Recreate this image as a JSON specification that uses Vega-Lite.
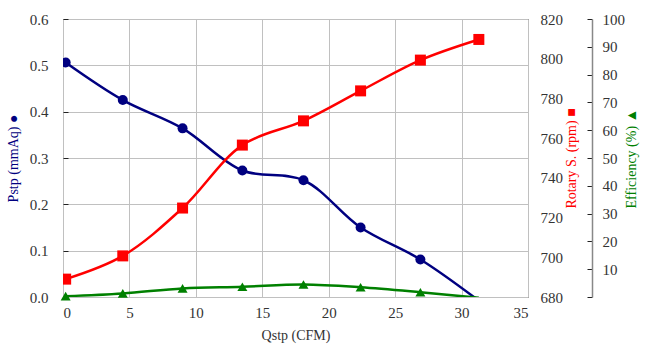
{
  "$schema": "https://vega.github.io/schema/vega-lite/v6.json",
  "width": 465,
  "height": 278,
  "autosize": {"type": "none"},
  "padding": {"left": 63, "top": 19, "right": 119, "bottom": 59},
  "background": "#ffffff",
  "config": {
    "font": "'Liberation Serif', 'Times New Roman', serif",
    "view": {"stroke": "#222222", "strokeWidth": 1},
    "axis": {
      "labelFont": "'Liberation Serif', 'Times New Roman', serif",
      "titleFont": "'Liberation Serif', 'Times New Roman', serif",
      "labelFontSize": 15,
      "titleFontSize": 14,
      "titleFontWeight": "normal",
      "labelColor": "#333333",
      "gridColor": "#c0c0c0",
      "gridWidth": 1
    }
  },
  "data": {
    "values": [
      {"q": 0.2, "pstp": 0.506, "rpm": 689.0, "eff": 0.3},
      {"q": 4.5, "pstp": 0.425, "rpm": 700.7, "eff": 1.3},
      {"q": 9.0, "pstp": 0.364, "rpm": 724.8, "eff": 3.1},
      {"q": 13.5, "pstp": 0.273, "rpm": 756.5, "eff": 3.7},
      {"q": 18.1, "pstp": 0.252, "rpm": 768.7, "eff": 4.5},
      {"q": 22.4, "pstp": 0.150, "rpm": 783.8, "eff": 3.5},
      {"q": 26.9, "pstp": 0.081, "rpm": 799.3, "eff": 1.7},
      {"q": 31.3, "pstp": -0.008, "rpm": 809.7, "eff": -0.3}
    ]
  },
  "encoding": {
    "x": {
      "field": "q",
      "type": "quantitative",
      "scale": {"domain": [0, 35], "nice": false},
      "axis": {
        "values": [0, 5, 10, 15, 20, 25, 30, 35],
        "grid": true,
        "domain": false,
        "ticks": false,
        "labelPadding": 8,
        "title": "Qstp (CFM)",
        "titleColor": "#333333",
        "titlePadding": 8
      }
    }
  },
  "layer": [
    {
      "encoding": {
        "y": {
          "field": "pstp",
          "type": "quantitative",
          "scale": {"domain": [0, 0.6], "nice": false},
          "axis": {
            "orient": "left",
            "values": [0, 0.1, 0.2, 0.3, 0.4, 0.5, 0.6],
            "format": ".1f",
            "grid": true,
            "domain": false,
            "ticks": true,
            "tickSize": -5,
            "tickColor": "#222222",
            "labelPadding": 20,
            "title": "Pstp (mmAq) ●",
            "titleColor": "#000080",
            "titlePadding": 9
          }
        }
      },
      "layer": [
        {"mark": {"type": "line", "color": "#000080", "strokeWidth": 2.5, "interpolate": "catmull-rom", "clip": true}},
        {"transform": [{"filter": "datum.q < 31"}], "mark": {"type": "point", "shape": "circle", "filled": true, "opacity": 1, "color": "#000080", "size": 100, "clip": true}}
      ]
    },
    {
      "encoding": {
        "y": {
          "field": "rpm",
          "type": "quantitative",
          "scale": {"domain": [680, 820], "nice": false},
          "axis": {
            "orient": "right",
            "values": [680, 700, 720, 740, 760, 780, 800, 820],
            "grid": false,
            "domain": false,
            "ticks": false,
            "labelPadding": 12,
            "title": "Rotary S. (rpm) ■",
            "titleColor": "#ff0000",
            "titleAngle": 270,
            "titleBaseline": "top",
            "titlePadding": 2
          }
        }
      },
      "layer": [
        {"mark": {"type": "line", "color": "#ff0000", "strokeWidth": 2.5, "interpolate": "catmull-rom", "clip": true}},
        {"mark": {"type": "point", "shape": "square", "filled": true, "opacity": 1, "color": "#ff0000", "size": 121, "clip": true}}
      ]
    },
    {
      "encoding": {
        "y": {
          "field": "eff",
          "type": "quantitative",
          "scale": {"domain": [0, 100], "nice": false},
          "axis": {
            "orient": "right",
            "offset": 64,
            "values": [0, 10, 20, 30, 40, 50, 60, 70, 80, 90, 100],
            "labelExpr": "datum.value == 0 ? '' : datum.label",
            "grid": false,
            "domain": true,
            "domainColor": "#888888",
            "domainWidth": 1.5,
            "ticks": true,
            "tickSize": -5,
            "tickColor": "#222222",
            "labelPadding": 15,
            "title": "Efficiency (%) ▲",
            "titleColor": "#008000",
            "titleAngle": 270,
            "titleBaseline": "top",
            "titlePadding": 0
          }
        }
      },
      "layer": [
        {"mark": {"type": "line", "color": "#008000", "strokeWidth": 2.5, "interpolate": "catmull-rom", "clip": true}},
        {"transform": [{"filter": "datum.q < 31"}], "mark": {"type": "point", "shape": "triangle-up", "filled": true, "opacity": 1, "color": "#008000", "size": 100, "clip": false}}
      ]
    }
  ],
  "resolve": {"scale": {"y": "independent"}}
}
